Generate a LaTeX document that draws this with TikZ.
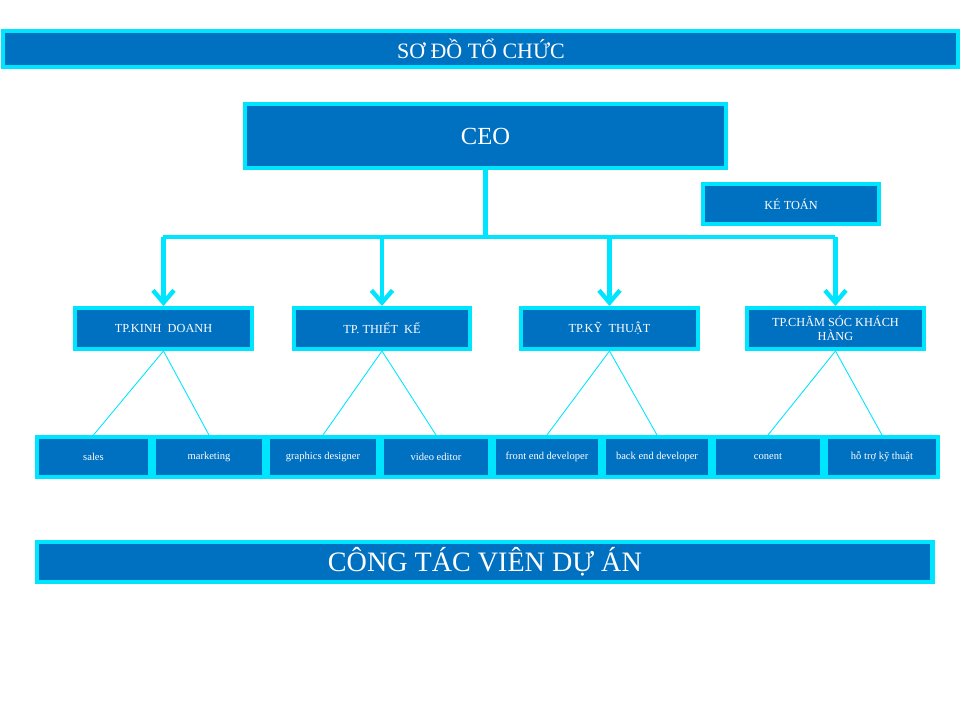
\documentclass[tikz,border=0pt]{standalone}
\usepackage{fontspec}
\setmainfont{Liberation Serif}
\usetikzlibrary{arrows.meta}
\definecolor{boxblue}{RGB}{0,112,192}
\definecolor{rim}{RGB}{0,229,255}
\tikzset{
  box/.style={rectangle,fill=boxblue,draw=rim,line width=2.5pt,inner sep=1pt,
    text=white,align=center,anchor=north west},
  link/.style={draw=rim,line width=2.5pt},
  thin/.style={draw=rim,line width=0.5pt}
}
\begin{document}
\begin{tikzpicture}[x=0.02cm,y=-0.02cm]
    \useasboundingbox (0,0) rectangle (960,720);
    \node[box,minimum width=19.2cm-2.5pt,minimum height=0.8cm-2.5pt,font=\fontsize{12.5}{14}\selectfont] (title) at (1,29) {SƠ ĐỒ TỔ CHỨC};
    \node[box,minimum width=9.7cm-2.5pt,minimum height=1.36cm-2.5pt,font=\fontsize{14}{16}\selectfont] (ceo) at (243,102) {CEO};
    \node[box,minimum width=3.6cm-2.5pt,minimum height=0.88cm-2.5pt,font=\fontsize{7}{8}\selectfont] (kt) at (701,182) {KÉ TOÁN};

    \node[box,minimum width=3.62cm-2.5pt,minimum height=0.9cm-2.5pt,font=\fontsize{7}{8}\selectfont] (kd) at (73,306) {TP.KINH\ \ DOANH};
    \node[box,minimum width=3.6cm-2.5pt,minimum height=0.9cm-2.5pt,font=\fontsize{7}{8}\selectfont] (tk) at (292,306) {TP.\ THIẾT\ \ KẾ};
    \node[box,minimum width=3.62cm-2.5pt,minimum height=0.9cm-2.5pt,font=\fontsize{7}{8}\selectfont] (ky) at (519,306) {TP.KỸ\ \ THUẬT};
    \node[box,minimum width=3.62cm-2.5pt,minimum height=0.9cm-2.5pt,font=\fontsize{7}{8}\selectfont] (cs) at (745,306) {TP.CHĂM\ SÓC\ KHÁCH\\HÀNG};

    \node[box,minimum width=2.34cm-2.5pt,minimum height=0.88cm-2.5pt,font=\fontsize{6}{7}\selectfont] (sa) at (35,435) {sales};
    \node[box,minimum width=2.28cm-2.5pt,minimum height=0.88cm-2.5pt,font=\fontsize{6}{7}\selectfont] (mk) at (152,435) {marketing};
    \node[box,minimum width=2.28cm-2.5pt,minimum height=0.88cm-2.5pt,font=\fontsize{6}{7}\selectfont] (gd) at (266,435) {graphics designer};
    \node[box,minimum width=2.24cm-2.5pt,minimum height=0.88cm-2.5pt,font=\fontsize{6}{7}\selectfont] (ve) at (380,435) {video editor};
    \node[box,minimum width=2.2cm-2.5pt,minimum height=0.88cm-2.5pt,font=\fontsize{6}{7}\selectfont] (fe) at (492,435) {front end developer};
    \node[box,minimum width=2.2cm-2.5pt,minimum height=0.88cm-2.5pt,font=\fontsize{6}{7}\selectfont] (be) at (602,435) {back end developer};
    \node[box,minimum width=2.24cm-2.5pt,minimum height=0.88cm-2.5pt,font=\fontsize{6}{7}\selectfont] (co) at (712,435) {conent};
    \node[box,minimum width=2.32cm-2.5pt,minimum height=0.88cm-2.5pt,font=\fontsize{6}{7}\selectfont] (ht) at (824,435) {hỗ trợ kỹ thuật};

    \node[box,minimum width=18cm-2.5pt,minimum height=0.88cm-2.5pt,font=\fontsize{16}{18}\selectfont] (ctv) at (35,540) {CÔNG TÁC VIÊN DỰ ÁN};

    % CEO to departments
    \coordinate (bus) at (ceo.south |- 0,237);
    \path[link] (ceo.south) -- (bus);
    \path[link] (kd.north |- bus) -- (cs.north |- bus);
    \foreach \d in {kd,tk,ky,cs}
      \path[link,-{Straight Barb[length=7pt,width=12pt]}] (\d.north |- bus) -- (\d.north);

    % departments to staff
    \path[thin] (sa.north) -- (kd.south) -- (mk.north);
    \path[thin] (gd.north) -- (tk.south) -- (ve.north);
    \path[thin] (fe.north) -- (ky.south) -- (be.north);
    \path[thin] (co.north) -- (cs.south) -- (ht.north);
\end{tikzpicture}
\end{document}
